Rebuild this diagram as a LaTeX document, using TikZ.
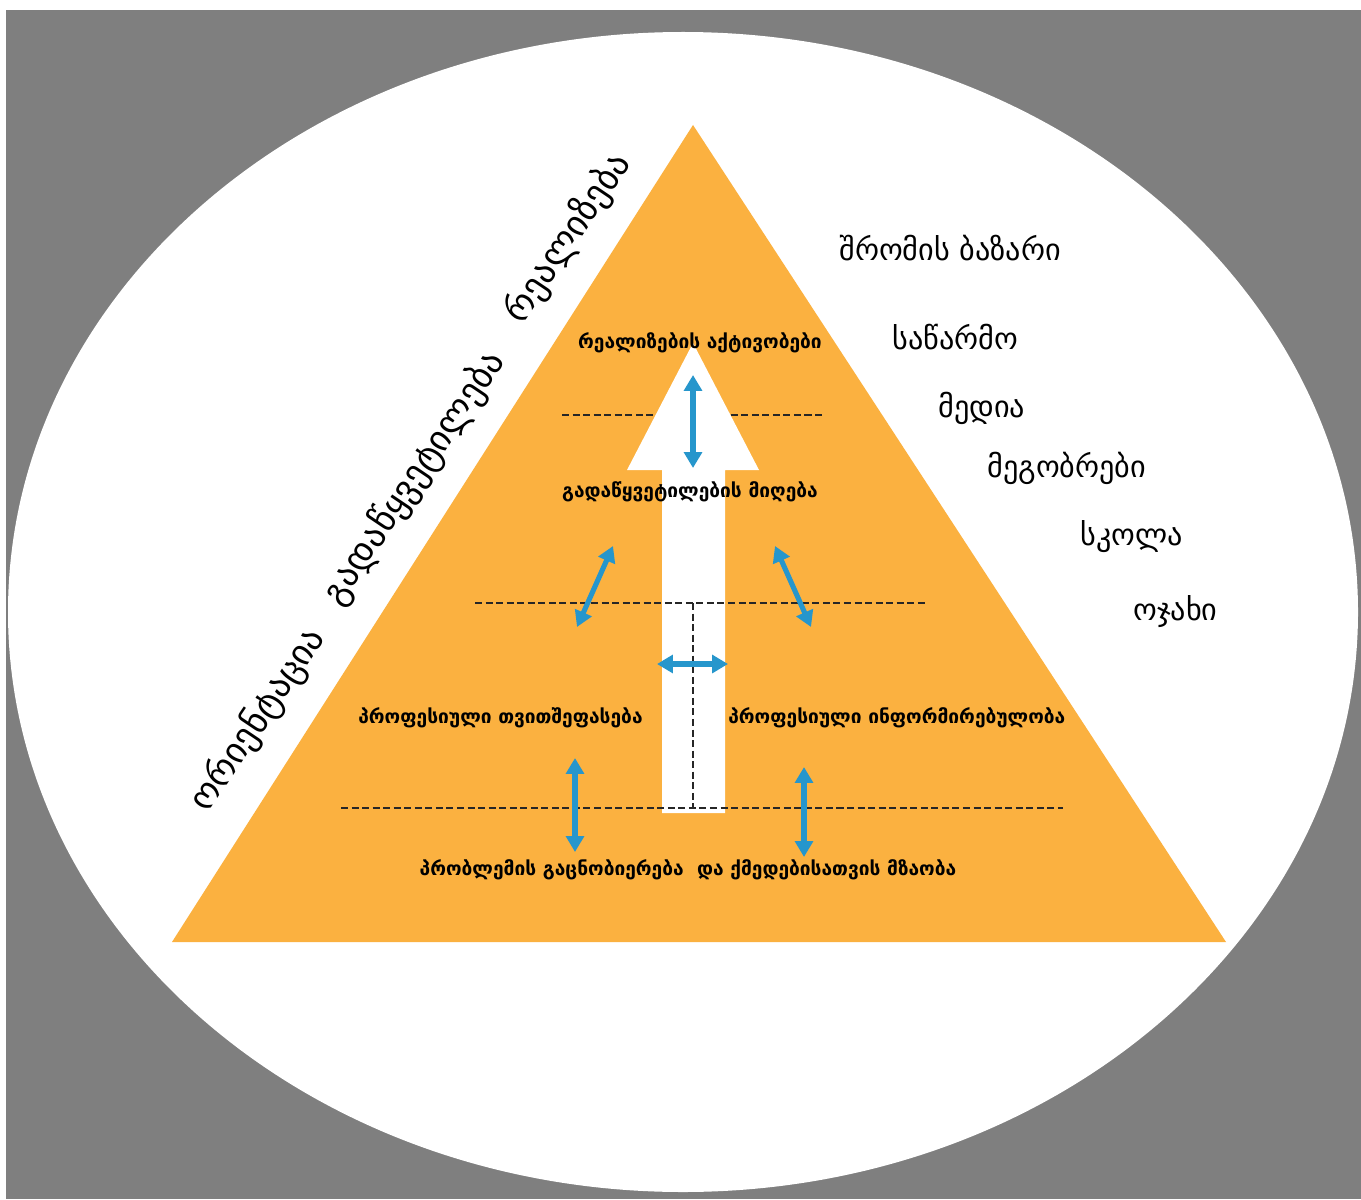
\documentclass[tikz,border=0pt]{standalone}
\usepackage{fontspec}
\setmainfont{DejaVu Sans}
\usetikzlibrary{positioning,arrows.meta}

\definecolor{bggray}{RGB}{127,127,127}
\definecolor{pyrorange}{RGB}{251,177,64}
\definecolor{linkblue}{RGB}{38,150,204}

\begin{document}
\begin{tikzpicture}[x=0.02cm,y=-0.02cm]
    \tikzset{
        levelline/.style={dash pattern=on 4pt off 2pt, line width=1.6pt, black!85},
        linkarrow/.style={{Triangle[length=9pt,width=10pt]}-{Triangle[length=9pt,width=10pt]},
            line width=2.9pt, linkblue},
        levellabel/.style={font=\fontsize{10.9}{13}\selectfont\bfseries, inner sep=0pt},
        envlabel/.style={font=\fontsize{17.2}{19}\selectfont, inner sep=0pt, anchor=west},
        stagelabel/.style={font=\fontsize{20.5}{23}\selectfont, inner sep=0pt, rotate=56}
    }

    % frame and oval
    \fill[white] (0,0) rectangle (1361,1199);
    \fill[bggray] (6,10) rectangle (1361,1199);
    \fill[white] (683,612) ellipse [x radius=675, y radius=580];

    % pyramid
    \fill[pyrorange] (693,125) -- (1226,942) -- (172,942) -- cycle;
    \draw[levelline] (562,415) -- (823,415);
    \fill[white] (693,343) -- (759,470) -- (725,470) -- (725,813)
        -- (662,813) -- (662,470) -- (627,470) -- cycle;
    \draw[levelline] (475,603) -- (928,603);
    \draw[levelline] (341,808) -- (1063,808);
    \draw[levelline] (693,603) -- (693,808);

    \node[levellabel] (realize) at (700,343) {რეალიზების აქტივობები};
    \node[levellabel] (decide) at (690,492) {გადაწყვეტილების მიღება};
    \node[levellabel, anchor=east] (selfeval) at (643,718) {პროფესიული თვითშეფასება};
    \node[levellabel, anchor=west] (inform) at (728,718) {პროფესიული ინფორმირებულობა};
    \node[levellabel] (aware) at (688,870) {პრობლემის გაცნობიერება\ \ და ქმედებისათვის მზაობა};

    % links between the levels
    \coordinate (topA) at (693,375);   \coordinate (topB) at (693,468);
    \coordinate (leftA) at (613,546);  \coordinate (leftB) at (577,627);
    \coordinate (rightA) at (775,546); \coordinate (rightB) at (811,627);
    \coordinate (midA) at (657,664);   \coordinate (midB) at (728,664);
    \coordinate (lowlA) at (575,758);  \coordinate (lowlB) at (575,852);
    \coordinate (lowrA) at (804,767);  \coordinate (lowrB) at (804,857);
    \draw[linkarrow] (topA) -- (topB);
    \draw[linkarrow] (leftA) -- (leftB);
    \draw[linkarrow] (rightA) -- (rightB);
    \draw[linkarrow] (midA) -- (midB);
    \draw[linkarrow] (lowlA) -- (lowlB);
    \draw[linkarrow] (lowrA) -- (lowrB);

    % surroundings
    \node[envlabel] (market) at (839,248) {შრომის ბაზარი};
    \node[envlabel] (firm) at (892,337) {საწარმო};
    \node[envlabel] (media) at (938,408) {მედია};
    \node[envlabel] (friends) at (987,468) {მეგობრები};
    \node[envlabel] (school) at (1080,537) {სკოლა};
    \node[envlabel] (family) at (1133,612) {ოჯახი};

    % stages along the left side
    \node[stagelabel] (orient) at (258,720) {ორიენტაცია};
    \node[stagelabel] (choice) at (414,478) {გადაწყვეტილება};
    \node[stagelabel] (realise) at (568,238) {რეალიზება};

\end{tikzpicture}
\end{document}
